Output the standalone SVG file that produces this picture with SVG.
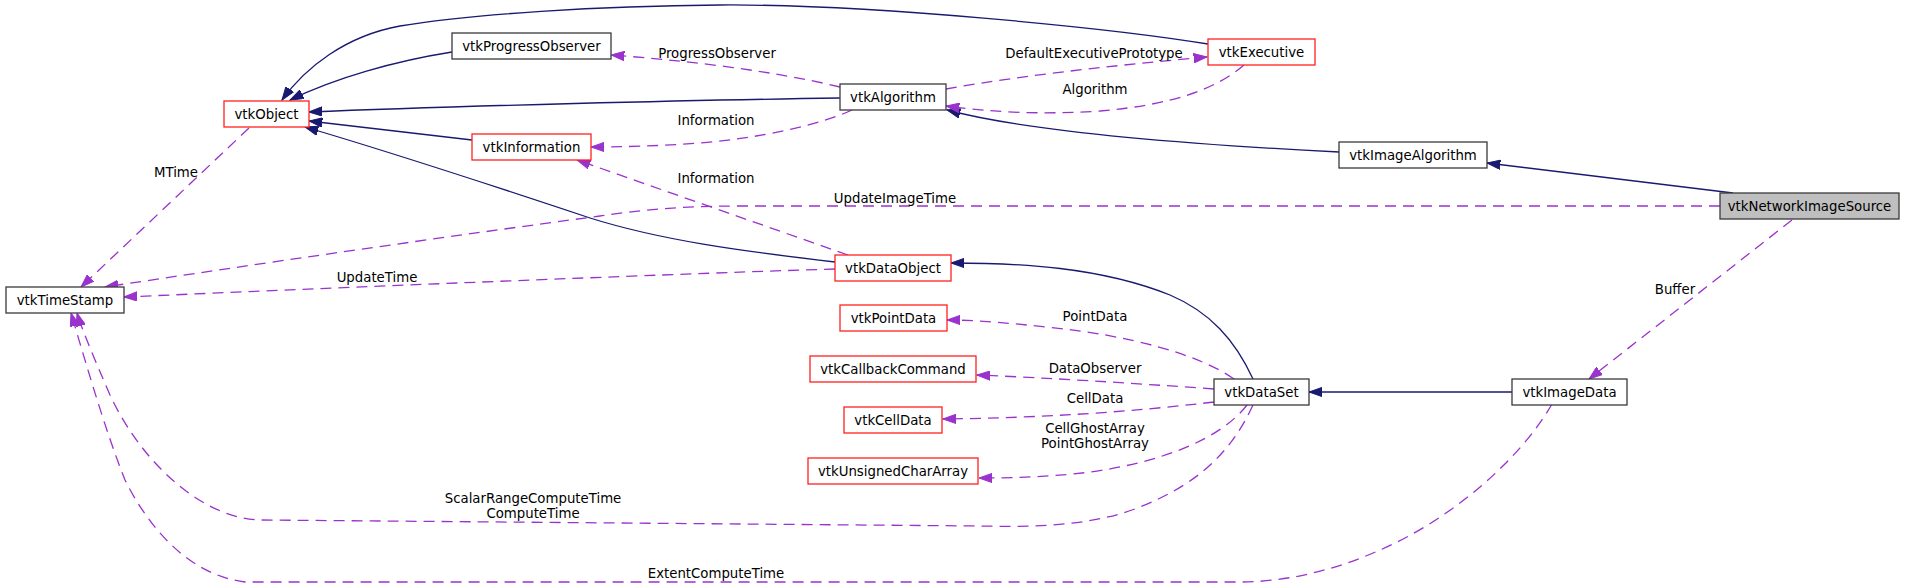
<svg xmlns="http://www.w3.org/2000/svg" width="1909" height="588" viewBox="0 0 1909 588">
<style>
text{font-family:"DejaVu Sans","Liberation Sans",sans-serif;font-size:13.3px;fill:#000;text-anchor:middle}
.n rect{fill:#fff;stroke:#3a3a3a;stroke-width:1.3}
.n.r rect{stroke:#ff2020}
.n.m rect{fill:#bfbfbf}
.inh{fill:none;stroke:#191970;stroke-width:1.3;marker-end:url(#ab)}
.use{fill:none;stroke:#9a32cd;stroke-width:1.3;stroke-dasharray:11,7;marker-end:url(#ap)}
</style>
<defs>
<marker id="ab" viewBox="0 -5 14 10" refX="13.3" refY="0" markerWidth="14" markerHeight="10" markerUnits="userSpaceOnUse" orient="auto"><path d="M0,-4.7L13.3,0L0,4.7z" fill="#191970" stroke="#191970" stroke-width="1"/></marker>
<marker id="ap" viewBox="0 -5 14 10" refX="13.3" refY="0" markerWidth="14" markerHeight="10" markerUnits="userSpaceOnUse" orient="auto"><path d="M0,-4.7L13.3,0L0,4.7z" fill="#9a32cd" stroke="#9a32cd" stroke-width="1"/></marker>
</defs>
<rect width="1909" height="588" fill="#fff"/>
<g id="edges">
<path class="inh" d="M1208,44 C1110,28 870,4 720,5 C600,6 470,14 400,26 C345,36 305,68 282,100"/>
<path class="inh" d="M452,52 C395,61 335,78 290,100"/>
<path class="inh" d="M840,98 C700,100 450,106 309,112"/>
<path class="inh" d="M472,140 L309,121"/>
<path class="inh" d="M835,262 C740,251 660,240 590,218 C500,188 390,152 305,127"/>
<path class="inh" d="M1339,152 C1180,144 1030,132 947,110"/>
<path class="inh" d="M1733,193 L1487,163"/>
<path class="inh" d="M1253,379 C1235,340 1210,312 1170,295 C1100,267 1020,263 951,263"/>
<path class="inh" d="M1512,392 L1309,392"/>
<path class="use" d="M840,87 C770,70 680,60 611,55"/>
<path class="use" d="M946,89 C1030,74 1130,64 1207,57"/>
<path class="use" d="M1244,65 C1215,90 1170,105 1100,111 C1040,115 990,112 946,106"/>
<path class="use" d="M852,110 C820,125 760,138 700,143 C660,146 620,147 591,147"/>
<path class="use" d="M848,255 L577,160"/>
<path class="use" d="M249,128 L81,287"/>
<path class="use" d="M1720,206 L740,206 C680,206 640,210 600,216 C450,236 250,265 105,287"/>
<path class="use" d="M835,269 C700,273 400,285 124,297"/>
<path class="use" d="M1253,405 C1230,455 1195,485 1140,507 C1090,527 1030,527 980,526 L260,520 C200,518 140,460 110,395 C95,360 82,330 77,313"/>
<path class="use" d="M1552,404 C1520,460 1450,520 1380,550 C1340,568 1290,582 1240,582 L245,582 C190,575 150,530 125,480 C105,430 85,360 71,313"/>
<path class="use" d="M1234,379 C1200,355 1130,335 1046,327 C1000,322 970,320 947,320"/>
<path class="use" d="M1214,389 C1130,383 1050,378 977,375"/>
<path class="use" d="M1214,402 C1130,412 1040,418 943,419"/>
<path class="use" d="M1247,405 C1220,440 1160,462 1091,472 C1040,478 1000,478 979,478"/>
<path class="use" d="M1792,220 L1589,379"/>
<text x="717" y="57.5">ProgressObserver</text>
<text x="1094" y="58">DefaultExecutivePrototype</text>
<text x="1095" y="94">Algorithm</text>
<text x="716" y="125">Information</text>
<text x="716" y="183">Information</text>
<text x="176" y="176.5">MTime</text>
<text x="895" y="202.5">UpdateImageTime</text>
<text x="377" y="281.5">UpdateTime</text>
<text x="533" y="503">ScalarRangeComputeTime</text>
<text x="533" y="518">ComputeTime</text>
<text x="716" y="578">ExtentComputeTime</text>
<text x="1095" y="320.5">PointData</text>
<text x="1095" y="372.5">DataObserver</text>
<text x="1095" y="402.5">CellData</text>
<text x="1095" y="433">CellGhostArray</text>
<text x="1095" y="448">PointGhostArray</text>
<text x="1675" y="294">Buffer</text>
</g>
<g id="vtkNetworkImageSource" class="n m"><rect x="1720" y="193" width="179" height="26"/><text x="1809.5" y="210.5">vtkNetworkImageSource</text></g>
<g id="vtkImageAlgorithm" class="n"><rect x="1339" y="142" width="148" height="26"/><text x="1413" y="159.5">vtkImageAlgorithm</text></g>
<g id="vtkAlgorithm" class="n"><rect x="840" y="84" width="106" height="26"/><text x="893" y="101.5">vtkAlgorithm</text></g>
<g id="vtkExecutive" class="n r"><rect x="1208" y="39" width="107" height="26"/><text x="1261.5" y="56.5">vtkExecutive</text></g>
<g id="vtkProgressObserver" class="n"><rect x="452" y="33" width="159" height="26"/><text x="531.5" y="50.5">vtkProgressObserver</text></g>
<g id="vtkObject" class="n r"><rect x="224" y="101" width="85" height="26"/><text x="266.5" y="118.5">vtkObject</text></g>
<g id="vtkInformation" class="n r"><rect x="472" y="134" width="119" height="26"/><text x="531.5" y="151.5">vtkInformation</text></g>
<g id="vtkDataObject" class="n r"><rect x="835" y="255" width="116" height="26"/><text x="893" y="272.5">vtkDataObject</text></g>
<g id="vtkTimeStamp" class="n"><rect x="6" y="287" width="118" height="26"/><text x="65" y="304.5">vtkTimeStamp</text></g>
<g id="vtkPointData" class="n r"><rect x="840" y="305" width="107" height="26"/><text x="893.5" y="322.5">vtkPointData</text></g>
<g id="vtkCallbackCommand" class="n r"><rect x="810" y="356" width="166" height="26"/><text x="893" y="373.5">vtkCallbackCommand</text></g>
<g id="vtkCellData" class="n r"><rect x="844" y="407" width="98" height="26"/><text x="893" y="424.5">vtkCellData</text></g>
<g id="vtkUnsignedCharArray" class="n r"><rect x="808" y="458" width="170" height="26"/><text x="893" y="475.5">vtkUnsignedCharArray</text></g>
<g id="vtkDataSet" class="n"><rect x="1214" y="379" width="95" height="26"/><text x="1261.5" y="396.5">vtkDataSet</text></g>
<g id="vtkImageData" class="n"><rect x="1512" y="379" width="115" height="26"/><text x="1569.5" y="396.5">vtkImageData</text></g>
</svg>
